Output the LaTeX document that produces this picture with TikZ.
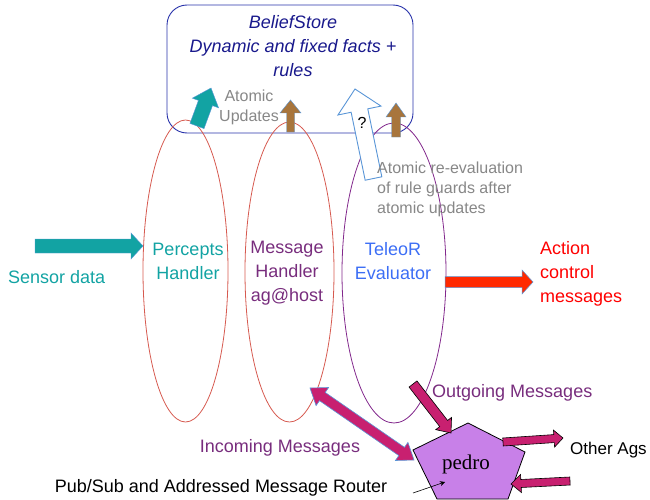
\documentclass[tikz,border=0pt]{standalone}
\usepackage{fontspec}
\setmainfont{Liberation Sans}
\newfontfamily\pedrofont{Liberation Serif}
\usetikzlibrary{calc,shapes.geometric,arrows.meta}

\definecolor{tealc}{RGB}{18,163,163}
\definecolor{navyc}{RGB}{25,25,140}
\definecolor{boxblue}{RGB}{40,50,170}
\definecolor{ellred}{RGB}{214,90,80}
\definecolor{ellpurple}{RGB}{130,40,140}
\definecolor{msgpurple}{RGB}{120,45,125}
\definecolor{teleoblue}{RGB}{60,110,245}
\definecolor{actred}{RGB}{255,0,0}
\definecolor{arrred}{RGB}{255,40,0}
\definecolor{brownc}{RGB}{168,117,60}
\definecolor{magentac}{RGB}{200,32,112}
\definecolor{pedrofill}{RGB}{200,128,232}
\definecolor{grayc}{RGB}{135,135,135}
\definecolor{edgeblue}{RGB}{90,150,215}

% block arrow: style, tail, tip, half shaft width, half head width, head length
\newcommand\blockarrow[6]{%
  \coordinate (ba-h) at ($(#3)!#6!(#2)$);
  \path[#1] ($(#2)!#4!90:(#3)$) -- ($(ba-h)!#4!90:(#3)$) -- ($(ba-h)!#5!90:(#3)$)
    -- (#3) -- ($(ba-h)!#5!-90:(#3)$) -- ($(ba-h)!#4!-90:(#3)$) -- ($(#2)!#4!-90:(#3)$) -- cycle;
}
% block arrow with a head at both ends
\newcommand\twowayarrow[6]{%
  \coordinate (da-h1) at ($(#3)!#6!(#2)$);
  \coordinate (da-h2) at ($(#2)!#6!(#3)$);
  \path[#1] (#2) -- ($(da-h2)!#5!90:(#3)$) -- ($(da-h2)!#4!90:(#3)$) -- ($(da-h1)!#4!90:(#3)$)
    -- ($(da-h1)!#5!90:(#3)$) -- (#3) -- ($(da-h1)!#5!-90:(#3)$) -- ($(da-h1)!#4!-90:(#3)$)
    -- ($(da-h2)!#4!-90:(#3)$) -- ($(da-h2)!#5!-90:(#3)$) -- cycle;
}

\tikzset{
  big/.style={font=\fontsize{18}{24}\selectfont},
  small/.style={font=\fontsize{16}{20}\selectfont},
  handler/.style={ellipse, draw, line width=0.8pt, inner sep=0pt},
  tealarrow/.style={fill=tealc, draw=edgeblue, line width=0.4pt},
  brownarrow/.style={fill=brownc, draw=edgeblue, line width=0.4pt},
  redarrow/.style={fill=arrred, draw=edgeblue, line width=0.5pt},
  magarrow/.style={fill=magentac, draw=black, line width=0.6pt},
  magarrowb/.style={fill=magentac, draw=edgeblue, line width=0.6pt},
  hollowarrow/.style={fill=white, draw=edgeblue, line width=0.9pt},
}

\begin{document}
\begin{tikzpicture}[x=1pt, y=-1pt]
\useasboundingbox (0,0) rectangle (650,500);

% belief store
\draw[boxblue, line width=0.9pt, rounded corners=20pt] (167,5) rectangle (413,133);
\node[text=navyc, align=center, font=\fontsize{18}{24}\selectfont\itshape] (store) at (293,46)
  {BeliefStore\\Dynamic and fixed facts +\\rules};

% the three handlers
\node[handler, draw=ellred, minimum width=85pt, minimum height=302pt] (perc) at (185.5,271) {};
\node[handler, draw=ellred, minimum width=89pt, minimum height=300pt] (msg) at (289.5,272) {};
\node[handler, draw=ellpurple, minimum width=104pt, minimum height=300pt] (teleo) at (394,273) {};

\node[big, text=tealc, align=center] (perc-t) at (188,261.5) {Percepts\\Handler};
\node[big, text=msgpurple, align=center] (msg-t) at (287,273) {Message\\Handler\\ag@host};
\node[big, text=teleoblue, align=center] (teleo-t) at (393,261.5) {TeleoR\\Evaluator};

% updates into the store
\coordinate (pu-tail) at (197,126);
\coordinate (pu-tip) at (211,88);
\blockarrow{tealarrow}{pu-tail}{pu-tip}{7.5pt}{14pt}{16pt}
\coordinate (mu-tail) at (290.5,132);
\coordinate (mu-tip) at (290.5,100);
\blockarrow{brownarrow}{mu-tail}{mu-tip}{4pt}{10.5pt}{13pt}
\coordinate (tu-tail) at (396,137);
\coordinate (tu-tip) at (396,103);
\blockarrow{brownarrow}{tu-tail}{tu-tip}{4.5pt}{10pt}{14pt}
\coordinate (q-tail) at (373.5,178.5);
\coordinate (q-tip) at (355,89);
\blockarrow{hollowarrow}{q-tail}{q-tip}{8.5pt}{22pt}{22pt}
\node[font=\fontsize{16}{20}\selectfont] (qmark) at (362,123) {?};

\node[small, text=grayc, align=center] (atomic) at (249,107) {Atomic\\Updates};
\node[small, text=grayc, align=left, anchor=west, inner sep=0pt] (reeval) at (377,189)
  {Atomic re-evaluation\\of rule guards after\\atomic updates};

% sensing and acting
\coordinate (sens-tail) at (35,246);
\coordinate (sens-tip) at (143,246);
\blockarrow{tealarrow}{sens-tail}{sens-tip}{7pt}{13pt}{12pt}
\node[big, text=tealc, anchor=west, inner sep=0pt] (sensor) at (8,277) {Sensor data};

\coordinate (act-tail) at (445,282);
\coordinate (act-tip) at (533,282);
\blockarrow{redarrow}{act-tail}{act-tip}{5.5pt}{12pt}{11pt}
\node[big, text=actred, align=left, anchor=west, inner sep=0pt] (action) at (540,274)
  {Action\\control\\messages};

% message router
\draw[black, line width=0.8pt, fill=pedrofill] (468,423) -- (525,452) -- (508,499)
  -- (437,499) -- (413,450) -- cycle;
\node[font=\pedrofont\fontsize{21}{24}\selectfont] (pedro) at (466,464) {pedro};

\coordinate (in-a) at (310,388);
\coordinate (in-b) at (414,460);
\twowayarrow{magarrowb}{in-a}{in-b}{5pt}{11pt}{15pt}
\coordinate (out-tail) at (413,384);
\coordinate (out-tip) at (451,433);
\blockarrow{magarrow}{out-tail}{out-tip}{5pt}{10pt}{12pt}
\coordinate (oa-tail) at (503,442);
\coordinate (oa-tip) at (563,438);
\blockarrow{magarrow}{oa-tail}{oa-tip}{4pt}{8.5pt}{9pt}
\coordinate (ia-tail) at (570,481);
\coordinate (ia-tip) at (511,484);
\blockarrow{magarrow}{ia-tail}{ia-tip}{4pt}{9pt}{10pt}

\node[big, text=msgpurple, anchor=west, inner sep=0pt] (outgoing) at (432,393) {Outgoing Messages};
\node[big, text=msgpurple] (incoming) at (280,448) {Incoming Messages};
\node[font=\fontsize{17}{22}\selectfont, anchor=west, inner sep=0pt] (others) at (570,450) {Other Ags};
\node[big] (router) at (221,488) {Pub/Sub and Addressed Message Router};

\coordinate (rt-tail) at (413,493);
\coordinate (rt-tip) at (445,482);
\draw[-{Stealth[length=5pt,width=5pt]}, line width=0.6pt] (rt-tail) -- (rt-tip);
\end{tikzpicture}
\end{document}
